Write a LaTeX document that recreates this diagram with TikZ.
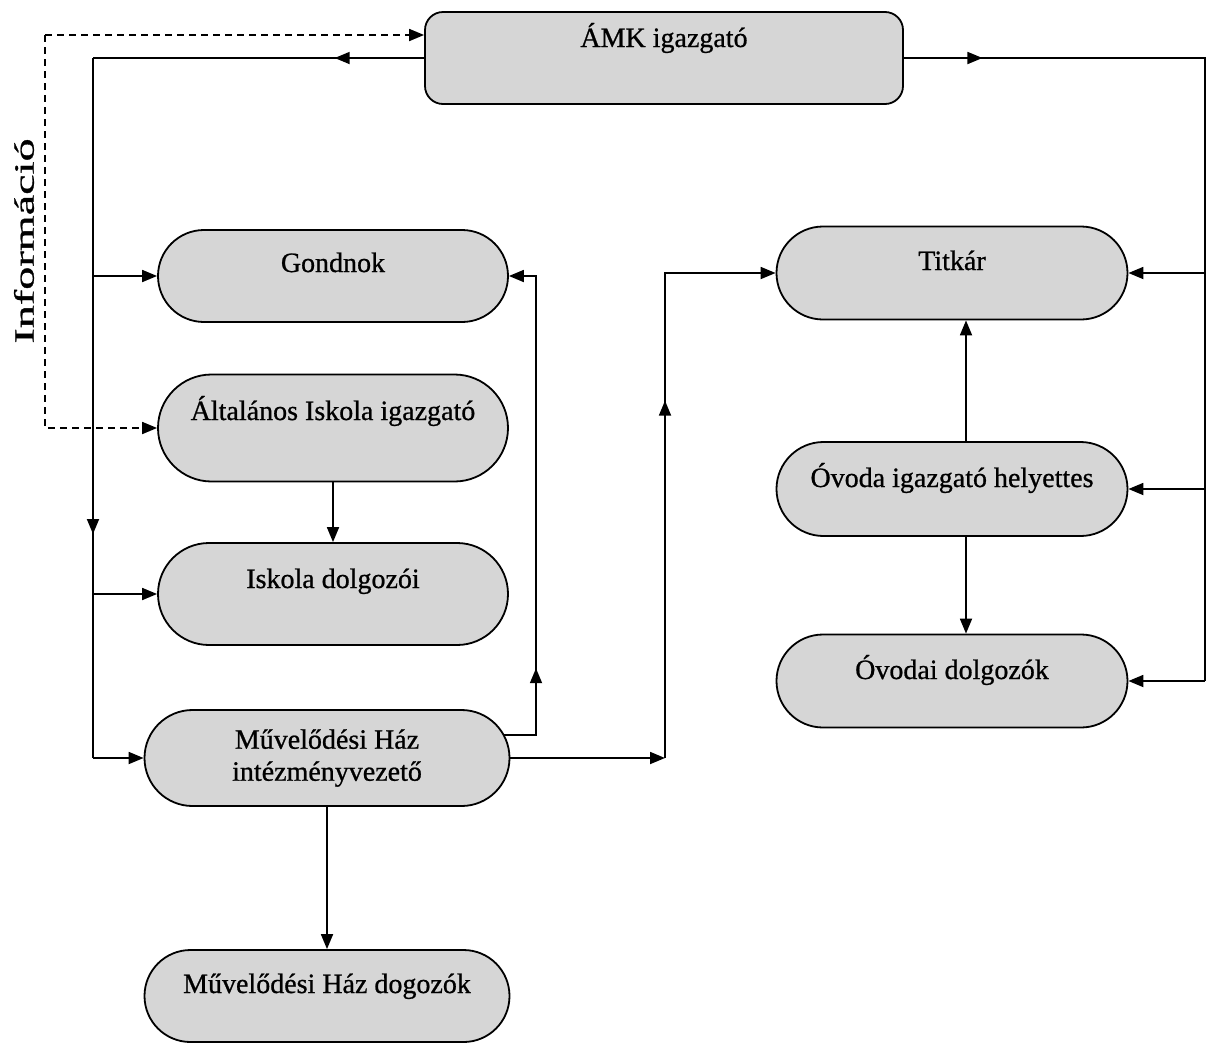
\documentclass[tikz,border=0pt]{standalone}
\usepackage{fontspec}
\usepackage{graphicx}
\setmainfont{Liberation Serif}
\newfontfamily\heavyserif{Liberation Serif}[FakeBold=0.8]
\usetikzlibrary{arrows.meta,decorations.markings,shapes.misc}
\begin{document}
\begin{tikzpicture}[x=1pt,y=-1pt,
  boxbase/.style={draw, line width=1.8pt, fill=black!16, inner sep=0pt,
    font=\heavyserif\fontsize{28}{32}\selectfont, align=center},
  box/.style={boxbase, rounded rectangle},
  txtup/.style={text height=20pt, text depth=#1},
  con/.style={line width=1.8pt},
  dashline/.style={line width=1.8pt, dash pattern=on 7pt off 5pt},
  tip/.style={-{Triangle[length=15pt,width=12pt]}},
  midarrow/.style={postaction={decorate}, decoration={markings,
    mark=at position #1 with {\arrow{Triangle[length=15pt,width=12pt]}}}}
]
\useasboundingbox (0,0) rectangle (1208,1045);

% boxes
\node[boxbase, rectangle, rounded corners=18pt, minimum width=478pt, minimum height=92pt, txtup=42pt]
  (amk) at (664,58) {ÁMK igazgató};
\node[box, minimum width=350pt, minimum height=92pt, txtup=28pt] (gond) at (333,276) {Gondnok};
\node[box, minimum width=350pt, minimum height=107pt, txtup=36pt] (alt) at (333,428) {Általános Iskola igazgató};
\node[box, minimum width=350pt, minimum height=102pt, txtup=32pt] (isk) at (333,594) {Iskola dolgozói};
\node[box, minimum width=365pt, minimum height=96pt] (muv) at (327,758) {Művelődési Ház\\intézményvezető};
\node[box, minimum width=365pt, minimum height=92pt, txtup=26pt] (muvd) at (327,996) {Művelődési Ház dogozók};
\node[box, minimum width=351pt, minimum height=93pt, txtup=26pt] (titk) at (952,273) {Titkár};
\node[box, minimum width=351pt, minimum height=94pt, txtup=24pt] (ovih) at (952,489) {Óvoda igazgató helyettes};
\node[box, minimum width=351pt, minimum height=93pt, txtup=24pt] (ovd) at (952,681) {Óvodai dolgozók};

% vertical label
\node[rotate=90, font=\heavyserif\fontsize{28}{32}\selectfont, inner sep=0pt] (info) at (24,241)
  {\scalebox{1.65}[1]{Információ}};

% left trunk
\coordinate (tl) at (93,58);
\coordinate (bl) at (93,758);
\draw[con, midarrow=0.27] (amk.west) -- (tl);
\draw[con, midarrow=0.68] (tl) -- (bl);
\draw[con, tip] (gond.west -| tl) -- (gond.west);
\draw[con, tip] (isk.west -| tl) -- (isk.west);
\draw[con, tip] (bl) -- (muv.west);

% dashed information line
\coordinate (d1) at (45,35);
\coordinate (d2) at (45,428);
\draw[dashline, tip] (d1) -- (amk.west |- d1);
\draw[dashline, tip] (d1) -- (d2) -- (alt.west);

% school
\draw[con, tip] (alt.south) -- (isk.north);

% Muvelodesi -> Gondnok
\coordinate (m1) at ([xshift=-6pt,yshift=23pt]muv.east);
\coordinate (gr) at (536,276);
\draw[con, tip, midarrow=0.19] (m1) -| (gr) -- (gond.east);

% Muvelodesi -> Titkar
\coordinate (c1) at (665,758);
\coordinate (c2) at (titk.west -| c1);
\draw[con, tip] (muv.east) -- (c1);
\draw[con, tip, midarrow=0.6] (c1) -- (c2) -- (titk.west);

% Muvelodesi -> dolgozok
\draw[con, tip] (muv.south) -- (muvd.north);

% right trunk
\coordinate (tr) at (1205,58);
\coordinate (br) at (ovd.east -| tr);
\draw[con, midarrow=0.085] (amk.east) -- (tr) -- (br);
\draw[con, tip] (titk.east -| tr) -- (titk.east);
\draw[con, tip] (ovih.east -| tr) -- (ovih.east);
\draw[con, tip] (br) -- (ovd.east);

% ovoda
\draw[con, tip] ([xshift=14pt]ovih.north) -- ([xshift=14pt]titk.south);
\draw[con, tip] ([xshift=14pt]ovih.south) -- ([xshift=14pt]ovd.north);
\end{tikzpicture}
\end{document}
